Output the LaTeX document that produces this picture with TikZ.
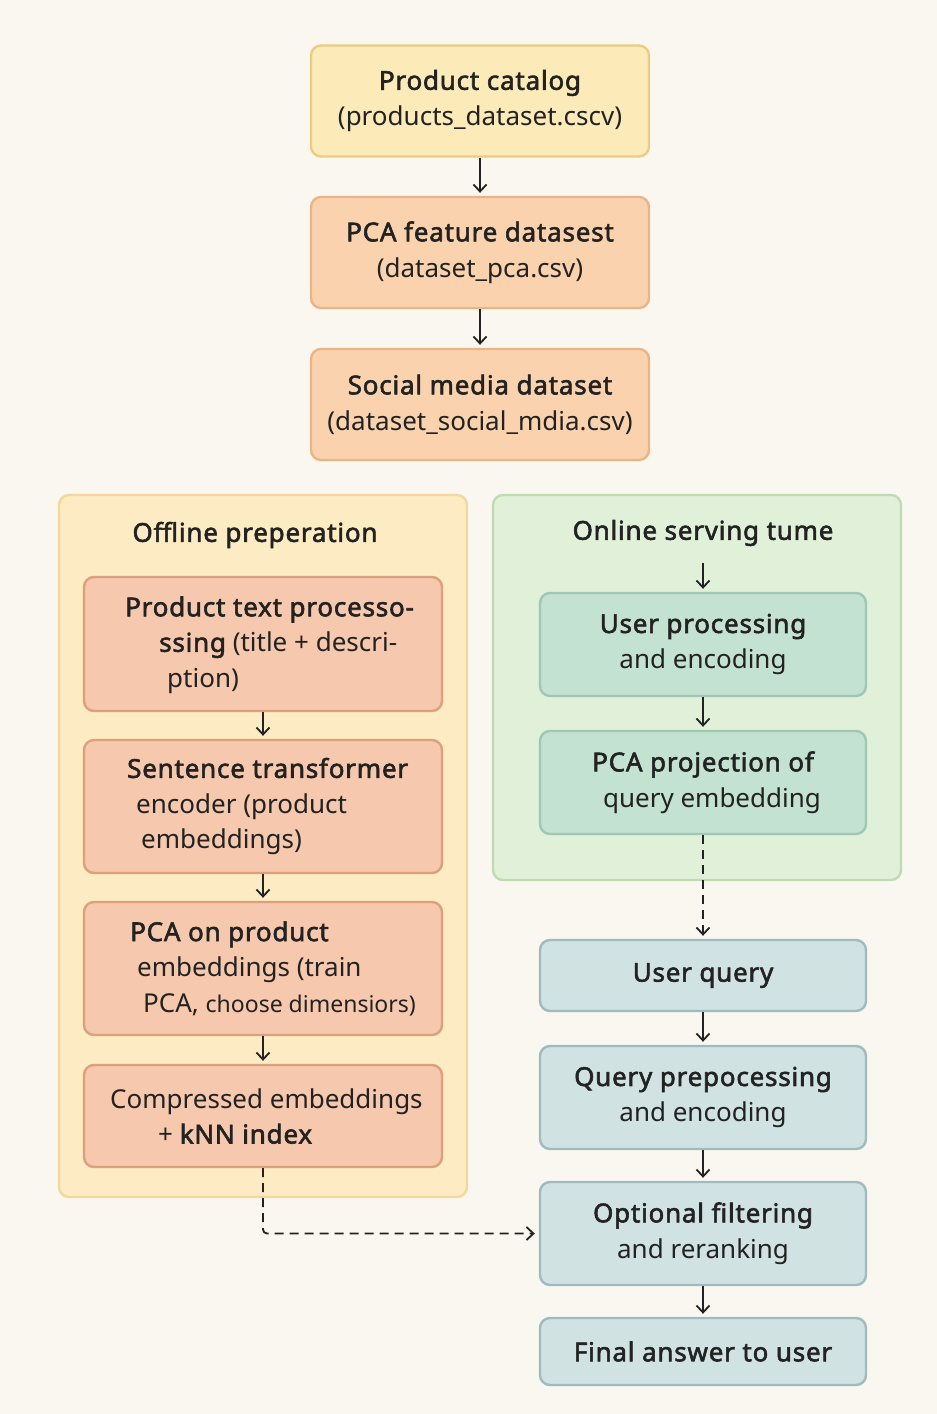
\documentclass[tikz,border=0pt]{standalone}
\usepackage{fontspec}
\setmainfont{Noto Sans}
\newfontfamily\semib{Noto Sans}[FakeBold=2.2, LetterSpace=3]
\newcommand\sbf{\semib}
\usetikzlibrary{arrows.meta}
\definecolor{bgc}{HTML}{FAF7F0}
\definecolor{ylwF}{HTML}{FCEBB8}\definecolor{ylwD}{HTML}{EDCB82}
\definecolor{pchF}{HTML}{FAD3AE}\definecolor{pchD}{HTML}{EBB486}
\definecolor{offF}{HTML}{FCEBC3}\definecolor{offD}{HTML}{F3D79C}
\definecolor{salF}{HTML}{F6C8AD}\definecolor{salD}{HTML}{DDA07F}
\definecolor{onF}{HTML}{E0F0D9}\definecolor{onD}{HTML}{BEDCB4}
\definecolor{grnF}{HTML}{C4E2D2}\definecolor{grnD}{HTML}{9FC8B4}
\definecolor{bluF}{HTML}{D1E2E2}\definecolor{bluD}{HTML}{9FBBBF}
\definecolor{ink}{HTML}{222222}
\begin{document}
\begin{tikzpicture}[x=1pt,y=-1pt,
  every node/.style={text=ink, font=\fontsize{26pt}{36pt}\selectfont},
  box/.style={draw, line width=2.4pt, rounded corners=10pt, inner sep=0pt, align=center},
  topbox/.style={box, minimum width=338pt, minimum height=111pt},
  offbox/.style={box, fill=salF, draw=salD, minimum width=358pt},
  rbox/.style={box, minimum width=326pt},
  panel/.style={draw, line width=2.4pt, rounded corners=10pt, inner sep=0pt, minimum width=408pt},
  txt/.style={inner sep=0pt, align=left, anchor=west, font=\fontsize{26pt}{35.5pt}\selectfont},
  ttl/.style={inner sep=0pt, minimum height=30pt},
  arr/.style={draw=ink, line width=1.8pt, -{Straight Barb[length=7pt,width=13pt,line width=1.8pt]}, shorten >=3pt},
  darr/.style={arr, dash pattern=on 9pt off 6pt}
]
\fill[bgc] (0,0) rectangle (937,1414);
\useasboundingbox (0,0) rectangle (937,1414);

% top chain
\node[topbox, fill=ylwF, draw=ylwD] (cat) at (480,101) {{\sbf Product catalog}\\(products\_dataset.cscv)};
\node[topbox, fill=pchF, draw=pchD] (pcaf) at (480,252.5) {{\sbf PCA feature datasest}\\(dataset\_pca.csv)};
\node[topbox, fill=pchF, draw=pchD] (soc) at (480,404.5) {{\sbf Social media dataset}\\(dataset\_social\_mdia.csv)};
\draw[arr] (cat) -- (pcaf);
\draw[arr] (pcaf) -- (soc);

% panels
\node[panel, fill=offF, draw=offD, minimum height=702pt] (off) at (263,846) {};
\node[panel, fill=onF, draw=onD, minimum height=385pt] (on) at (697,687.5) {};
\node[ttl] (offt) at (255,535) {{\sbf Offline preperation}};
\node[ttl] (ont) at (703,533) {{\sbf Online serving tume}};

% offline boxes
\node[offbox, minimum height=134pt] (b1) at (263,644) {};
\node[offbox, minimum height=133pt] (b2) at (263,806.5) {};
\node[offbox, minimum height=133pt] (b3) at (263,968.5) {};
\node[offbox, minimum height=102pt] (b4) at (263,1116) {};
\node[txt] (t1) at (125,645) {{\sbf Product text processo-}\\\hspace*{34pt}{\sbf ssing} (title + descri-\\\hspace*{42pt}ption)};
\node[txt] (t2) at (127,806.5) {{\sbf Sentence transformer}\\\hspace*{9pt}encoder (product\\\hspace*{14pt}embeddings)};
\node[txt] (t3) at (130,968.5) {{\sbf PCA on product}\\\hspace*{7pt}embeddings (train\\\hspace*{13pt}PCA, {\fontsize{23pt}{35.5pt}\selectfont choose dimensiors)}};
\node[txt] (t4) at (110,1116) {Compressed embeddings\\\hspace*{48pt}+ {\sbf kNN index}};
\draw[arr] (b1) -- (b2);
\draw[arr] (b2) -- (b3);
\draw[arr] (b3) -- (b4);

% online boxes
\node[rbox, fill=grnF, draw=grnD, minimum height=103pt] (up) at (703,644.5) {{\sbf User processing}\\and encoding};
\node[rbox, fill=grnF, draw=grnD, minimum height=103pt] (pp) at (703,782.5) {{\sbf PCA projection of}\\\hspace*{18pt}query embedding};
\draw[arr, shorten <=15pt] (ont) -- (up);
\draw[arr] (up) -- (pp);

% serving chain
\node[rbox, fill=bluF, draw=bluD, minimum height=71pt] (uq) at (703,975.5) {{\sbf User query}};
\node[rbox, fill=bluF, draw=bluD, minimum height=103pt] (qp) at (703,1097.5) {{\sbf Query prepocessing}\\and encoding};
\node[rbox, fill=bluF, draw=bluD, minimum height=103pt] (opt) at (703,1233.5) {{\sbf Optional filtering}\\and reranking};
\node[rbox, fill=bluF, draw=bluD, minimum height=67pt] (fin) at (703,1351.5) {{\sbf Final answer to user}};
\draw[darr] (pp) -- (uq);
\draw[arr] (uq) -- (qp);
\draw[arr] (qp) -- (opt);
\draw[arr] (opt) -- (fin);
\draw[darr, rounded corners=4pt, shorten >=4pt] (b4.south) |- (opt.west);
\end{tikzpicture}
\end{document}
